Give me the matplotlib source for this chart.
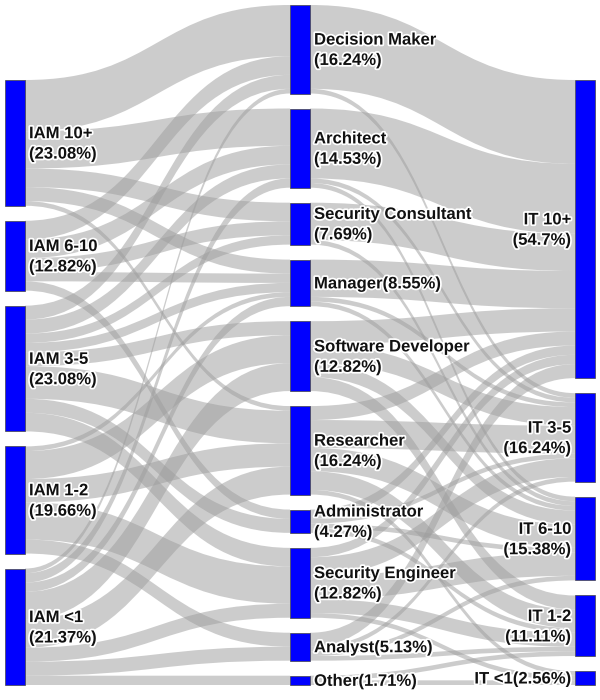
import matplotlib
matplotlib.use('Agg')
import matplotlib.pyplot as plt
from matplotlib.path import Path
from matplotlib.patches import PathPatch, Rectangle
import matplotlib.patheffects as pe

# ---------------- data ----------------
iam_nodes = ["IAM 10+", "IAM 6-10", "IAM 3-5", "IAM 1-2", "IAM <1"]
role_nodes = ["Decision Maker", "Architect", "Security Consultant", "Manager",
              "Software Developer", "Researcher", "Administrator",
              "Security Engineer", "Analyst", "Other"]
it_nodes = ["IT 10+", "IT 3-5", "IT 6-10", "IT 1-2", "IT <1"]

iam_labels = ["IAM 10+\n(23.08%)", "IAM 6-10\n(12.82%)", "IAM 3-5\n(23.08%)",
              "IAM 1-2\n(19.66%)", "IAM <1\n(21.37%)"]
role_labels = ["Decision Maker\n(16.24%)", "Architect\n(14.53%)",
               "Security Consultant\n(7.69%)", "Manager(8.55%)",
               "Software Developer\n(12.82%)", "Researcher\n(16.24%)",
               "Administrator\n(4.27%)", "Security Engineer\n(12.82%)",
               "Analyst(5.13%)", "Other(1.71%)"]
it_labels = ["IT 10+\n(54.7%)", "IT 3-5\n(16.24%)", "IT 6-10\n(15.38%)",
             "IT 1-2\n(11.11%)", "IT <1(2.56%)"]

# flows IAM experience -> role (rows: iam_nodes, cols: role_nodes)
iam_to_role = [
    [11, 8, 4, 3, 0, 1, 0, 0, 0, 0],
    [4, 4, 3, 2, 0, 0, 2, 0, 0, 0],
    [3, 3, 2, 2, 3, 7, 3, 4, 0, 0],
    [0, 0, 0, 1, 6, 5, 0, 8, 3, 0],
    [1, 2, 0, 2, 6, 6, 0, 3, 3, 2],
]
# flows role -> IT experience (rows: role_nodes, cols: it_nodes)
role_to_it = [
    [18, 1, 0, 0, 0],
    [15, 1, 1, 0, 0],
    [8, 0, 1, 0, 0],
    [8, 1, 1, 0, 0],
    [5, 4, 3, 3, 0],
    [3, 6, 5, 4, 1],
    [2, 1, 1, 1, 0],
    [2, 4, 5, 3, 1],
    [3, 1, 1, 1, 0],
    [0, 0, 0, 1, 1],
]

# ---------------- layout ----------------
W, H = 600, 700
top, bottom = 5, 685
gap = 15
node_w = 20
col_x = [5, 290, 575]
node_color = "#0000ff"
link_color = (0.62, 0.62, 0.62, 0.52)

iam_tot = [sum(r) for r in iam_to_role]
role_tot = [sum(iam_to_role[i][j] for i in range(len(iam_nodes))) for j in range(len(role_nodes))]
it_tot = [sum(role_to_it[i][j] for i in range(len(role_nodes))) for j in range(len(it_nodes))]
total = sum(iam_tot)
scale = (bottom - top - gap * (len(role_nodes) - 1)) / total


def column_positions(values, align_bottom=True):
    h = sum(values) * scale + gap * (len(values) - 1)
    y = bottom - h if align_bottom else top
    pos = []
    for v in values:
        pos.append((y, y + v * scale))
        y += v * scale + gap
    return pos


iam_pos = column_positions(iam_tot)
role_pos = column_positions(role_tot, align_bottom=False)
it_pos = column_positions(it_tot)

fig = plt.figure(figsize=(6, 7), dpi=100)
ax = fig.add_axes([0, 0, 1, 1])
ax.set_xlim(0, W)
ax.set_ylim(H, 0)
ax.axis('off')


def draw_links(matrix, src_pos, tgt_pos, x0, x1):
    ns, nt = len(src_pos), len(tgt_pos)
    src_off = [p[0] for p in src_pos]
    tgt_off = [p[0] for p in tgt_pos]
    src_y = {}
    for i in range(ns):
        for j in range(nt):
            v = matrix[i][j]
            if v > 0:
                src_y[(i, j)] = src_off[i]
                src_off[i] += v * scale
    tgt_y = {}
    for j in range(nt):
        for i in range(ns):
            v = matrix[i][j]
            if v > 0:
                tgt_y[(i, j)] = tgt_off[j]
                tgt_off[j] += v * scale
    xm = (x0 + x1) / 2
    for (i, j), sy in src_y.items():
        ty = tgt_y[(i, j)]
        w = matrix[i][j] * scale
        verts = [(x0, sy), (xm, sy), (xm, ty), (x1, ty),
                 (x1, ty + w), (xm, ty + w), (xm, sy + w), (x0, sy + w),
                 (x0, sy)]
        codes = [Path.MOVETO, Path.CURVE4, Path.CURVE4, Path.CURVE4,
                 Path.LINETO, Path.CURVE4, Path.CURVE4, Path.CURVE4,
                 Path.CLOSEPOLY]
        ax.add_patch(PathPatch(Path(verts, codes), facecolor=link_color,
                               edgecolor='none', lw=0))


draw_links(iam_to_role, iam_pos, role_pos, col_x[0] + node_w, col_x[1])
draw_links(role_to_it, role_pos, it_pos, col_x[1] + node_w, col_x[2])

fx = [pe.withStroke(linewidth=2.5, foreground='white')]


def draw_nodes(pos, labels, x, side):
    for (y0, y1), lab in zip(pos, labels):
        ax.add_patch(Rectangle((x, y0), node_w, y1 - y0, facecolor=node_color,
                               edgecolor='#444444', lw=0.5))
        yc = (y0 + y1) / 2 + 1
        if side == 'right':
            ax.text(x + node_w + 4, yc, lab, ha='left', va='center',
                    fontsize=12, fontweight='bold', family='Liberation Sans',
                    linespacing=1.45, path_effects=fx, color='#111111')
        else:
            ax.text(x - 4, yc, lab, ha='right', va='center',
                    fontsize=12, fontweight='bold', family='Liberation Sans',
                    linespacing=1.45, path_effects=fx, color='#111111',
                    multialignment='right')


draw_nodes(iam_pos, iam_labels, col_x[0], 'right')
draw_nodes(role_pos, role_labels, col_x[1], 'right')
draw_nodes(it_pos, it_labels, col_x[2], 'left')

fig.savefig('out.png', dpi=100)
